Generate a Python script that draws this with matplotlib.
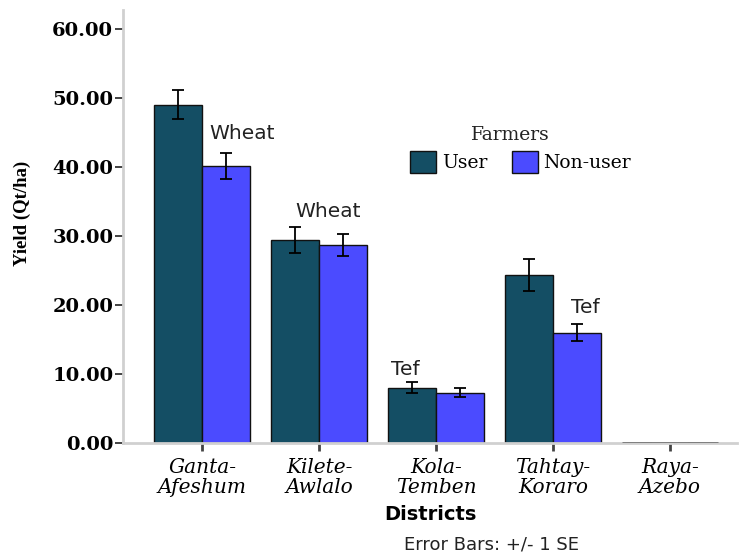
import numpy as np
import matplotlib
matplotlib.use('Agg')
import matplotlib.pyplot as plt

districts = ["Ganta-\nAfeshum", "Kilete-\nAwlalo", "Kola-\nTemben", "Tahtay-\nKoraro", "Raya-\nAzebo"]
user_yield = [49.0, 29.4, 8.0, 24.3, 0.0]
user_se = [2.1, 1.9, 0.8, 2.3, 0.0]
nonuser_yield = [40.1, 28.7, 7.3, 16.0, 0.0]
nonuser_se = [1.9, 1.6, 0.7, 1.2, 0.0]
crop_labels = ["Wheat", "Wheat", "Tef", "Tef"]
# where each crop label sits: offset from group centre, and height
crop_dx = [0.343, 0.077, -0.266, 0.275]
crop_y = [44.9, 33.6, 10.7, 19.6]

user_color = '#144e64'
nonuser_color = '#4b4bff'

fig = plt.figure(figsize=(7.39, 5.6), dpi=100)
ax = fig.add_axes([0.1664, 0.209, 0.831, 0.773])

x = np.arange(len(districts))
w = 0.412
err_kw = dict(ecolor='black', capsize=4, elinewidth=1.3, capthick=1.3)
ax.bar(x - w/2, user_yield, w, yerr=[0 if v == 0 else s for v, s in zip(user_yield, user_se)],
       color=user_color, edgecolor='#111111', linewidth=1.0, error_kw=err_kw, label='User')
ax.bar(x + w/2, nonuser_yield, w, yerr=[0 if v == 0 else s for v, s in zip(nonuser_yield, nonuser_se)],
       color=nonuser_color, edgecolor='#111111', linewidth=1.0, error_kw=err_kw, label='Non-user')
# zero-height bars for Raya-Azebo show as a gray line
ax.hlines(0.05, x[-1] - w, x[-1] + w, color='#777777', linewidth=2, zorder=4)

for i, lab in enumerate(crop_labels):
    ax.text(x[i] + crop_dx[i], crop_y[i], lab, ha='center', va='center', fontsize=14.5,
            family='DejaVu Sans', color='#222222')

ax.set_xlim(-0.678, 4.575)
ax.set_ylim(0, 62.75)
ax.set_yticks(np.arange(0, 61, 10))
ax.set_yticklabels(["%.2f" % v for v in np.arange(0, 61, 10)], fontsize=14,
                   fontweight='bold', family='DejaVu Serif')
ax.set_xticks(x)
ax.set_xticklabels(districts, fontsize=14.5, style='italic', family='DejaVu Serif',
                   linespacing=1.05)

for s in ['top', 'right']:
    ax.spines[s].set_visible(False)
ax.spines['left'].set_color('#d0d0d0')
ax.spines['left'].set_linewidth(2)
ax.spines['bottom'].set_color('#d0d0d0')
ax.spines['bottom'].set_linewidth(2)
ax.tick_params(axis='y', length=6, width=1.2, color='#222222', pad=1)
ax.tick_params(axis='x', length=6, width=2, color='#444444', pad=5)

ax.set_ylabel("Yield (Qt/ha)", fontsize=13.5, fontweight='bold', family='Liberation Serif')
ax.yaxis.set_label_coords(-0.15, 0.53)
ax.set_xlabel("Districts", fontsize=14, fontweight='bold', family='DejaVu Sans', labelpad=6)

ax.text(2.635, 44.6, "Farmers", ha='center', va='center', fontsize=13.5,
        family='DejaVu Serif', color='#222222')
leg = ax.legend(loc='center left', bbox_to_anchor=(0.44, 0.649), ncol=2,
                frameon=False, handlelength=1.4, handleheight=1.4, handletextpad=0.3,
                columnspacing=1.3, prop={'family': 'DejaVu Serif', 'size': 13.5})

fig.text(0.665, 0.012, "Error Bars: +/- 1 SE", ha='center', va='bottom', fontsize=13,
         family='DejaVu Sans', color='#222222')

fig.savefig('out.png', dpi=100)
